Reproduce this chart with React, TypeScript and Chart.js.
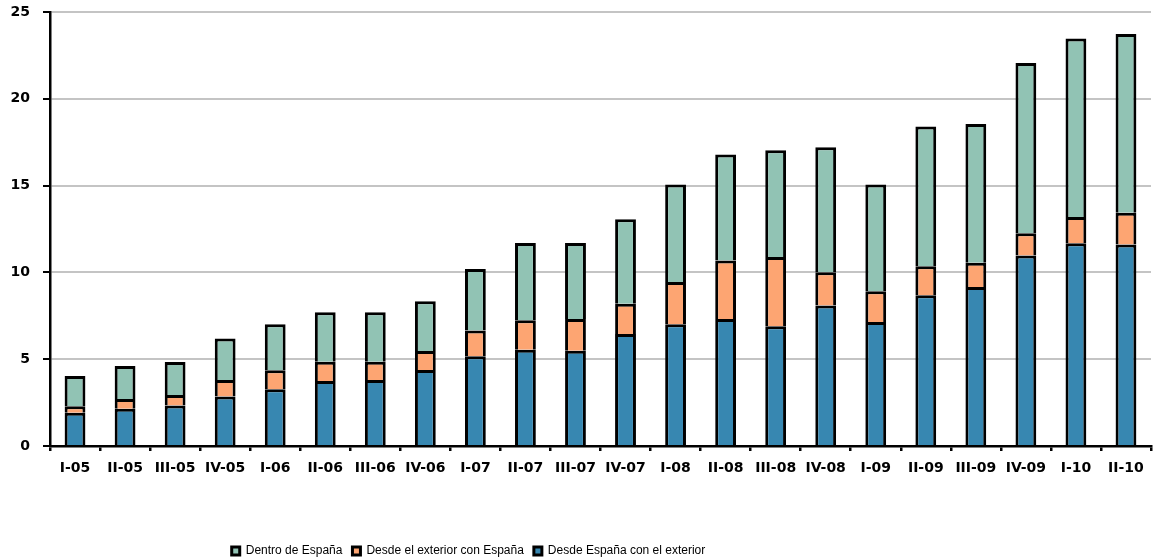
import React, { useEffect, useRef } from "react";
import { Chart, registerables } from "chart.js";

Chart.register(...registerables);

const categories = [
  "I-05", "II-05", "III-05", "IV-05", "I-06", "II-06", "III-06", "IV-06",
  "I-07", "II-07", "III-07", "IV-07", "I-08", "II-08", "III-08", "IV-08",
  "I-09", "II-09", "III-09", "IV-09", "I-10", "II-10",
];

// Desde España con el exterior (bottom, blue)
const desdeEspana = [
  1.92, 2.15, 2.33, 2.85, 3.27, 3.74, 3.80, 4.38, 5.17, 5.55, 5.49,
  6.45, 7.01, 7.32, 6.90, 8.10, 7.14, 8.68, 9.16, 10.97, 11.68, 11.60,
];

// Desde el exterior con España (middle, orange)
const desdeExterior = [
  0.37, 0.56, 0.61, 0.95, 1.09, 1.12, 1.06, 1.09, 1.49, 1.69, 1.83,
  1.75, 2.44, 3.36, 3.99, 1.91, 1.77, 1.67, 1.40, 1.28, 1.51, 1.84,
];

// Dentro de España (top, green)
const dentroEspana = [
  1.74, 1.90, 1.90, 2.39, 2.65, 2.84, 2.84, 2.87, 3.54, 4.45, 4.37,
  4.86, 5.61, 6.11, 6.14, 7.20, 6.15, 8.05, 7.99, 9.81, 10.29, 10.29,
];

const seriesLabels = [
  "Desde España con el exterior",
  "Desde el exterior con España",
  "Dentro de España",
];

const yTicks = [0, 5, 10, 15, 20, 25];

const LEGEND_DX = -107;
const LEGEND_DY = 7;

const legendShift = {
  id: "legendShift",
  afterLayout(chart: any) {
    const lg = chart.legend;
    if (!lg) return;
    lg.left += LEGEND_DX;
    lg.right += LEGEND_DX;
    lg.top += LEGEND_DY;
    lg.bottom += LEGEND_DY;
  },
};

export default function App() {
  const ref = useRef<HTMLCanvasElement | null>(null);

  useEffect(() => {
    if (!ref.current) return;
    const tickFont = { family: '"DejaVu Sans", "Liberation Sans", Arial, sans-serif', size: 14, weight: "bold" as const };
    const chart = new Chart(ref.current, {
      type: "bar",
      data: {
        labels: categories,
        datasets: [
          { label: seriesLabels[0], data: desdeEspana, backgroundColor: "#3787B1", borderColor: "#000", borderWidth: 3 },
          { label: seriesLabels[1], data: desdeExterior, backgroundColor: "#FDA572", borderColor: "#000", borderWidth: 3 },
          { label: seriesLabels[2], data: dentroEspana, backgroundColor: "#91C3B4", borderColor: "#000", borderWidth: 3 },
        ],
      },
      options: {
        responsive: false,
        animation: false,
        layout: { padding: { top: 12, left: 0, right: 5, bottom: 0 } },
        datasets: { bar: { categoryPercentage: 0.8, barPercentage: 0.52 } },
        scales: {
          x: {
            stacked: true,
            z: 1,
            grid: { display: true, drawOnChartArea: false, drawTicks: true, tickLength: 5, tickColor: "#000", lineWidth: 2.5, offset: true },
            border: { display: true, color: "#000", width: 2.5 },
            ticks: { font: tickFont, color: "#000", padding: 9, maxRotation: 0, autoSkip: false },
            afterFit: (scale: any) => { scale.height = 82; },
          },
          y: {
            stacked: true,
            min: 0,
            max: 25,
            afterBuildTicks: (scale: any) => { scale.ticks = yTicks.map((v) => ({ value: v })); },
            grid: { color: "#C4C4C4", lineWidth: 2, tickColor: "#000", tickLength: 7, drawTicks: true },
            border: { display: true, color: "#000", width: 2.5 },
            ticks: { font: tickFont, color: "#000", padding: 13 },
            afterFit: (scale: any) => {
              scale.width = 50;
              scale.paddingTop = 0;
              scale.paddingBottom = 0;
            },
          },
        },
        plugins: {
          legend: {
            position: "bottom",
            reverse: true,
            labels: {
              boxWidth: 8,
              boxHeight: 8,
              padding: 10,
              color: "#000",
              font: { family: '"Liberation Sans", Arial, sans-serif', size: 12 },
            },
          },
          tooltip: { enabled: false },
        },
      },
      plugins: [legendShift],
    });
    return () => chart.destroy();
  }, []);

  return (
    <div style={{ position: "fixed", left: 0, top: 0, width: 1156, height: 560, background: "#fff" }}>
      <canvas ref={ref} width={1156} height={560} style={{ display: "block" }} />
    </div>
  );
}
